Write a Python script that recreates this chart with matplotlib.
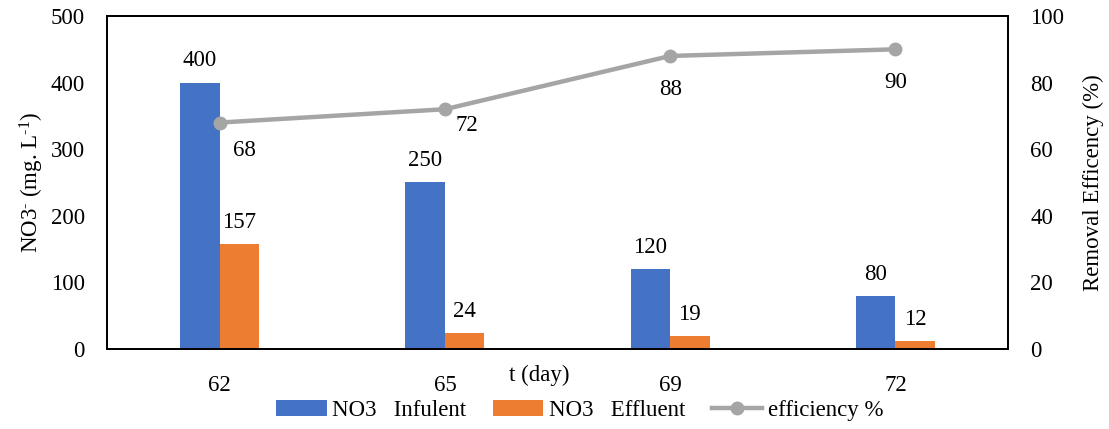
import matplotlib.pyplot as plt
import numpy as np

days = ['62', '65', '69', '72']
influent = [400, 250, 120, 80]
effluent = [157, 24, 19, 12]
efficiency = [68, 72, 88, 90]

plt.rcParams['font.family'] = ['Liberation Serif', 'DejaVu Serif']
plt.rcParams['mathtext.fontset'] = 'custom'
plt.rcParams['mathtext.rm'] = 'Liberation Serif'
plt.rcParams['mathtext.it'] = 'Liberation Serif'

blue = '#4472C4'
orange = '#ED7D31'
gray = '#A5A5A5'
fs = 16.5

fig = plt.figure(figsize=(11.09, 4.29), dpi=100)
ax = fig.add_axes([0.0965, 0.1865, 0.8125, 0.7762])
x = np.arange(len(days))
w = 0.175

b1 = ax.bar(x - w / 2, influent, w, color=blue, label='NO3   Infulent')
b2 = ax.bar(x + w / 2, effluent, w, color=orange, label='NO3   Effluent')
for xi, v in zip(x, influent):
    ax.annotate(str(v), (xi - w / 2, v), xytext=(0, 8), textcoords='offset points',
                ha='center', va='bottom', fontsize=fs)
for xi, v in zip(x, effluent):
    ax.annotate(str(v), (xi + w / 2, v), xytext=(0, 8), textcoords='offset points',
                ha='center', va='bottom', fontsize=fs)

ax.set_xlim(-0.5, len(days) - 0.5)
ax.set_ylim(0, 500)
ax.set_yticks(range(0, 501, 100))
ax.set_xticks(x)
ax.set_xticklabels(days)
ax.tick_params(axis='both', length=0, labelsize=fs)
ax.tick_params(axis='x', pad=19)
ax.tick_params(axis='y', pad=16)
ax.set_ylabel('NO3$^{\u2010}$ (mg. L$^{\u20101}$)', fontsize=fs, labelpad=3)
ax.text(1.42, -0.08, 't (day)', transform=ax.get_xaxis_transform(),
        ha='center', va='center', fontsize=fs)
for s in ax.spines.values():
    s.set_linewidth(1.3)
    s.set_color('black')

ax2 = ax.twinx()
ln, = ax2.plot(x, efficiency, color=gray, lw=3.2, marker='o', markersize=9,
               label='efficiency %')
# label offsets (points) below each marker
offs = [(18, -20), (16, -12), (0, -24), (0, -24)]
for xi, v, (dx, dy) in zip(x, efficiency, offs):
    ax2.annotate(str(v), (xi, v), xytext=(dx, dy), textcoords='offset points',
                 ha='center', va='center', fontsize=fs)
ax2.set_ylim(0, 100)
ax2.set_yticks(range(0, 101, 20))
ax2.tick_params(axis='y', length=0, labelsize=fs, pad=16)
ax2.set_ylabel('Removal Efficency (%)', fontsize=fs, labelpad=13)
for s in ax2.spines.values():
    s.set_linewidth(1.3)

fig.legend(handles=[b1, b2, ln], loc='center', bbox_to_anchor=(0.523, 0.044),
           ncol=3, frameon=False, fontsize=fs, handlelength=2.2,
           handletextpad=0.26, columnspacing=1.15)

fig.savefig('out.png', dpi=100)
